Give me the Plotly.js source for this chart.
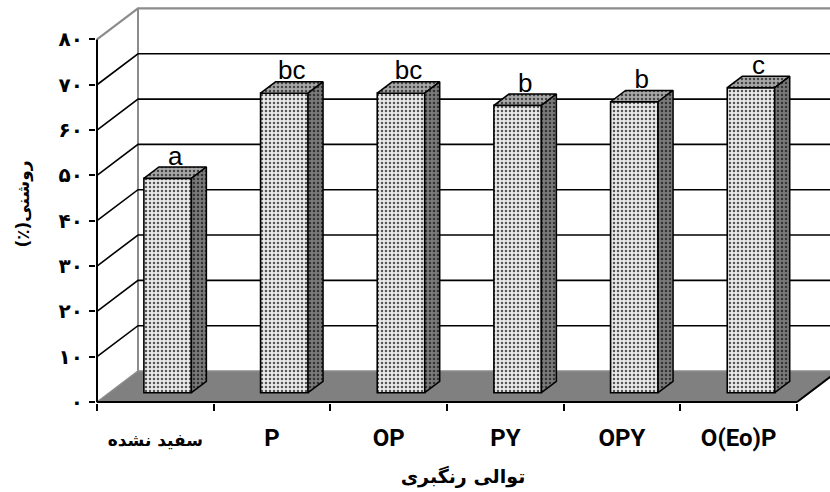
<!DOCTYPE html>
<html>
<head>
<meta charset="utf-8">
<script src="https://cdn.plot.ly/plotly-3.0.1.min.js"></script>
<style>html,body{margin:0;padding:0;background:#fff;}#chart{width:830px;height:492px;}</style>
</head>
<body>
<div id="chart"></div>
<script>
// ---- data ----
const categories = ['سفید نشده', 'P', 'OP', 'PY', 'OPY', 'O(Eo)P'];
const values = [47.3, 66.1, 66.1, 63.4, 64.2, 67.3];
const letters = ['a', 'bc', 'bc', 'b', 'b', 'c'];
const yTickVals = [0, 10, 20, 30, 40, 50, 60, 70, 80];
const yTickText = ['۰', '۱۰', '۲۰', '۳۰', '۴۰', '۵۰', '۶۰', '۷۰', '۸۰'];
const yTitle = '\u200Fروشنی(٪)\u200F';
const xTitle = 'توالی رنگبری';

// ---- 3D projection constants (style) ----
const DX = 0.3514;   // depth offset in x units
const DY = 6.84;     // depth offset in y units
const F0 = 0.30;     // front of bars (depth fraction)
const F1 = 0.666;    // back of bars
const BW = 0.407;    // bar width
const XMIN = -0.5086, XMAX = 5.7827;
const YMIN = -0.2207, YMAX = 87.6;
const YTOP = 80;

const idx = categories.map((c, i) => i);
const frontX = idx.map(i => i + F0 * DX);
const base = F0 * DY;
const ddx = (F1 - F0) * DX, ddy = (F1 - F0) * DY;

const traces = [];
// front faces as bars
traces.push({
  type: 'bar', x: frontX, y: values, base: idx.map(() => base), width: BW,
  marker: {color: '#e9e9e9', line: {color: '#000', width: 1.6},
    pattern: {shape: '.', fgcolor: '#555', bgcolor: '#eaeaea', size: 4, solidity: 0.32, fillmode: 'replace'}},
  hoverinfo: 'skip', showlegend: false
});
// top and side faces
idx.forEach(i => {
  const xl = frontX[i] - BW / 2, xr = frontX[i] + BW / 2;
  const T = base + values[i], B = base;
  traces.push({
    type: 'scatter', mode: 'lines', fill: 'toself',
    x: [xl, xr, xr + ddx, xl + ddx, xl],
    y: [T, T, T + ddy, T + ddy, T],
    line: {color: '#000', width: 1.5}, fillcolor: '#a0a0a0',
    fillpattern: {shape: '.', fgcolor: '#444', bgcolor: '#a8a8a8', size: 4, solidity: 0.32, fillmode: 'replace'},
    hoverinfo: 'skip', showlegend: false
  });
  traces.push({
    type: 'scatter', mode: 'lines', fill: 'toself',
    x: [xr, xr + ddx, xr + ddx, xr, xr],
    y: [B, B + ddy, T + ddy, T, B],
    line: {color: '#000', width: 1.5}, fillcolor: '#777',
    fillpattern: {shape: '.', fgcolor: '#333', bgcolor: '#7a7a7a', size: 4, solidity: 0.32, fillmode: 'replace'},
    hoverinfo: 'skip', showlegend: false
  });
});
// significance letters
traces.push({
  type: 'scatter', mode: 'text',
  x: idx.map(i => frontX[i] + ddx / 2),
  y: values.map(v => base + v + ddy - 0.9),
  text: letters, textposition: 'top center',
  textfont: {family: 'Liberation Sans, Arial, sans-serif', size: 26, color: '#000'},
  hoverinfo: 'skip', showlegend: false, cliponaxis: false
});
// dummy trace for tick axis
traces.push({type: 'scatter', mode: 'none', x: [0], y: [0], xaxis: 'x2', hoverinfo: 'skip', showlegend: false});

// ---- walls / grid shapes ----
const shapes = [];
const xl0 = -0.5, xr0 = categories.length - 0.5;
// floor
shapes.push({type: 'path', layer: 'below', xref: 'x', yref: 'y',
  path: `M${xl0},0 L${xl0 + DX},${DY} L${xr0 + DX},${DY} L${xr0},0 Z`,
  fillcolor: '#808080', line: {color: '#8c8c8c', width: 1.5}});
// back-wall left edge
shapes.push({type: 'line', layer: 'below', xref: 'x', yref: 'y', x0: xl0 + DX, y0: DY, x1: xl0 + DX, y1: YTOP + DY,
  line: {color: '#8c8c8c', width: 2}});
// gridlines
yTickVals.forEach(v => {
  if (v === 0) return;
  const col = v === YTOP ? '#8c8c8c' : '#000';
  shapes.push({type: 'path', layer: 'below', xref: 'x', yref: 'y',
    path: `M${xl0},${v} L${xl0 + DX},${v + DY} L${XMAX + 0.1},${v + DY}`,
    line: {color: col, width: v === YTOP ? 2.2 : 1.6}});
});
// front axis lines
shapes.push({type: 'line', layer: 'above', xref: 'x', yref: 'y', x0: xl0, y0: 0, x1: xl0, y1: YTOP, line: {color: '#000', width: 2}});
shapes.push({type: 'line', layer: 'above', xref: 'x', yref: 'y', x0: xl0, y0: 0, x1: xr0, y1: 0, line: {color: '#000', width: 2}});
shapes.push({type: 'line', layer: 'above', xref: 'x', yref: 'y', x0: xr0, y0: 0, x1: xr0 + DX, y1: DY, line: {color: '#000', width: 2}});

const persFont = 'DejaVu Sans, sans-serif';
const tickLabels = categories.map((c, i) => i === 0
  ? `<span style="font-family:DejaVu Sans;font-size:17px">${c}</span>`
  : c);

const layout = {
  width: 830, height: 492,
  margin: {l: 96, r: 0, t: 5, b: 89},
  paper_bgcolor: '#fff', plot_bgcolor: 'rgba(0,0,0,0)',
  showlegend: false,
  bargap: 0,
  xaxis: {
    range: [XMIN, XMAX], tickvals: idx, ticktext: tickLabels, ticks: '',
    showgrid: false, zeroline: false, showline: false,
    ticklabelstandoff: 18,
    tickfont: {family: 'Roboto, Liberation Sans, sans-serif', size: 24, color: '#000', weight: 'bold'},
    title: {text: xTitle, font: {family: persFont, size: 19, color: '#000', weight: 'bold'}, standoff: 18}
  },
  xaxis2: {
    range: [XMIN, XMAX], overlaying: 'x', anchor: 'y', side: 'bottom',
    tickvals: idx.map(i => i - 0.5).concat([xr0]), ticks: 'outside', ticklen: 7, tickwidth: 2, tickcolor: '#000',
    showticklabels: false, showgrid: false, zeroline: false, showline: false
  },
  yaxis: {
    range: [YMIN, YMAX], tickvals: yTickVals, ticktext: yTickText,
    ticks: 'outside', ticklen: 6, tickwidth: 2, tickcolor: '#000',
    showgrid: false, zeroline: false, showline: false,
    ticklabelstandoff: 2,
    tickfont: {family: persFont, size: 20, color: '#000', weight: 'bold'},
    title: {text: yTitle, font: {family: persFont, size: 17, color: '#000', weight: 'bold'}, standoff: 24}
  },
  shapes: shapes
};

Plotly.newPlot('chart', traces, layout, {displayModeBar: false, staticPlot: true});
</script>
</body>
</html>
